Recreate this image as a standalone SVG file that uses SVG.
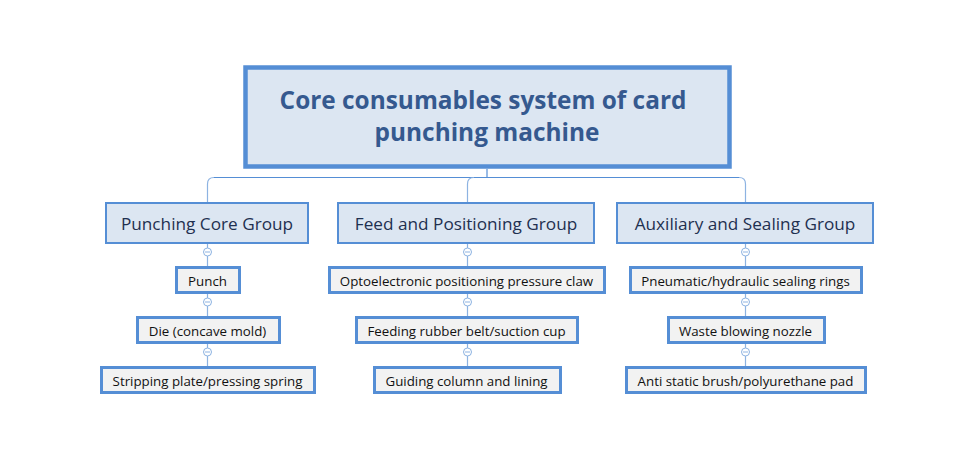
<svg xmlns="http://www.w3.org/2000/svg" width="958" height="468" viewBox="0 0 958 468">
<style>
.root{fill:#DCE6F2;stroke:#558ED5;stroke-width:4.5}
.l1{fill:#DCE6F2;stroke:#558ED5;stroke-width:2}
.l2{fill:#F2F2F2;stroke:#558ED5;stroke-width:3}
.t0{font-family:"Open Sans","Noto Sans",sans-serif;font-weight:bold;font-size:24.4px;fill:#35598F;text-anchor:middle}
.t1{font-family:"Open Sans","Noto Sans",sans-serif;font-size:17.2px;fill:#1F3050;text-anchor:middle}
.t2{font-family:"Open Sans","Noto Sans",sans-serif;font-size:13.3px;fill:#111;text-anchor:middle}
.ln{fill:none;stroke:#8DB3E2;stroke-width:1.2}
.ln2{fill:none;stroke:#558ED5;stroke-width:1.2}
.cc{fill:#fff;stroke:#8DB3E2;stroke-width:1}
.cm{stroke:#8DB3E2;stroke-width:1}
</style>
<rect width="958" height="468" fill="#fff"/>
<g id="connectors">
<path class="ln2" d="M487 169V177.5"/>
<path class="ln2" d="M214 177.5H739"/>
<path class="ln" d="M214 177.5Q207.5 177.5 207.5 184V203"/>
<path class="ln" d="M474 177.5Q467.5 177.5 467.5 184V203"/>
<path class="ln" d="M739 177.5Q745.5 177.5 745.5 184V203"/>
<path class="ln" d="M207.5 244V266M207.5 294V316M207.5 344V366"/>
<path class="ln" d="M467.5 244V266M467.5 294V316M467.5 344V366"/>
<path class="ln" d="M745.5 244V266M745.5 294V316M745.5 344V366"/>
<g>
<circle class="cc" cx="207.5" cy="252" r="4"/><path class="cm" d="M205 252H210"/>
<circle class="cc" cx="207.5" cy="302" r="4"/><path class="cm" d="M205 302H210"/>
<circle class="cc" cx="207.5" cy="352" r="4"/><path class="cm" d="M205 352H210"/>
<circle class="cc" cx="467.5" cy="252" r="4"/><path class="cm" d="M465 252H470"/>
<circle class="cc" cx="467.5" cy="302" r="4"/><path class="cm" d="M465 302H470"/>
<circle class="cc" cx="467.5" cy="352" r="4"/><path class="cm" d="M465 352H470"/>
<circle class="cc" cx="745.5" cy="252" r="4"/><path class="cm" d="M743 252H748"/>
<circle class="cc" cx="745.5" cy="302" r="4"/><path class="cm" d="M743 302H748"/>
<circle class="cc" cx="745.5" cy="352" r="4"/><path class="cm" d="M743 352H748"/>
</g>
</g>
<g id="root">
<rect class="root" x="245.5" y="67.5" width="484" height="99"/>
<text class="t0" x="483" y="109">Core consumables system of card</text>
<text class="t0" x="487" y="141">punching machine</text>
</g>
<g id="g1">
<rect class="l1" x="106" y="203" width="202" height="40"/>
<text class="t1" x="207" y="230">Punching Core Group</text>
</g>
<g id="g2">
<rect class="l1" x="338" y="203" width="256" height="40"/>
<text class="t1" x="466" y="230">Feed and Positioning Group</text>
</g>
<g id="g3">
<rect class="l1" x="617" y="203" width="256" height="40"/>
<text class="t1" x="745" y="230">Auxiliary and Sealing Group</text>
</g>
<g id="n11"><rect class="l2" x="176.5" y="267.5" width="63" height="25"/><text class="t2" x="207.5" y="285.5">Punch</text></g>
<g id="n12"><rect class="l2" x="137.5" y="317.5" width="142" height="25"/><text class="t2" x="207.5" y="335.5">Die (concave mold)</text></g>
<g id="n13"><rect class="l2" x="101.5" y="367.5" width="213" height="25"/><text class="t2" x="207.5" y="385.5">Stripping plate/pressing spring</text></g>
<g id="n21"><rect class="l2" x="329.5" y="267.5" width="275" height="25"/><text class="t2" x="466.5" y="285.5">Optoelectronic positioning pressure claw</text></g>
<g id="n22"><rect class="l2" x="356.5" y="317.5" width="221" height="25"/><text class="t2" x="466.5" y="335.5">Feeding rubber belt/suction cup</text></g>
<g id="n23"><rect class="l2" x="374.5" y="367.5" width="186" height="25"/><text class="t2" x="466.5" y="385.5">Guiding column and lining</text></g>
<g id="n31"><rect class="l2" x="630.5" y="267.5" width="231" height="25"/><text class="t2" x="745.5" y="285.5">Pneumatic/hydraulic sealing rings</text></g>
<g id="n32"><rect class="l2" x="668.5" y="317.5" width="156" height="25"/><text class="t2" x="745.5" y="335.5">Waste blowing nozzle</text></g>
<g id="n33"><rect class="l2" x="626.5" y="367.5" width="239" height="25"/><text class="t2" x="745.5" y="385.5">Anti static brush/polyurethane pad</text></g>
</svg>
